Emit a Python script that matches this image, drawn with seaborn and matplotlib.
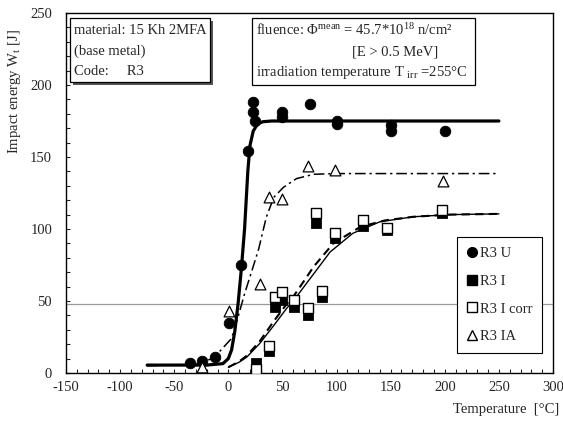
import matplotlib
matplotlib.use('Agg')
import matplotlib.pyplot as plt
from matplotlib.lines import Line2D
from matplotlib.patches import Rectangle
from matplotlib.ticker import MultipleLocator
import seaborn as sns

sns.set_style('ticks')
plt.rcParams.update({
    'font.family': ['Liberation Serif', 'DejaVu Serif'],
    'mathtext.fontset': 'custom',
    'mathtext.rm': 'Liberation Serif',
    'mathtext.it': 'Liberation Serif:italic',
    'font.size': 10.5,
    'axes.unicode_minus': False,
})

# ── measured points ─────────────────────────────────────────────────────────
T_U = [-35, -24, -12, 1, 12, 18, 23, 23, 25, 50, 50, 75, 100, 100, 150, 150, 200]
W_U = [7, 8, 11, 35, 75, 154, 188, 181, 175, 181, 178, 187, 175, 173, 172, 168, 168]

T_I = [26, 38, 43, 50, 61, 74, 81, 87, 99, 124, 147, 197]
W_I = [7, 15, 46, 51, 46, 40, 104, 53, 94, 102, 99, 111]

T_ICORR = [26, 38, 43, 50, 61, 74, 81, 87, 99, 124, 147, 197]
W_ICORR = [3, 19, 53, 56, 51, 45, 111, 57, 97, 106, 101, 113]

T_IA = [-24, 1, 29, 38, 50, 74, 99, 198]
W_IA = [4, 43, 62, 122, 121, 144, 141, 133]

# ── fitted curves ───────────────────────────────────────────────────────────
CT_U = [-75, -20, -5, 0, 3, 6, 9, 12, 15, 18, 20, 23, 27, 32, 40, 250]
CW_U = [5.5, 5.5, 6.5, 10, 16, 29, 48, 72, 100, 140, 158, 168, 173, 174.5, 175, 175]

CT_IA = [-75, -30, -15, -8, 3, 9, 15, 23, 28, 35, 42, 51, 63, 79, 100, 250]
CW_IA = [5, 6, 10, 15, 24, 39, 55, 74, 86, 108, 122, 129, 135, 138, 138.5, 138.5]

CT_I = [0, 10, 17, 29, 42, 54, 60, 70, 79, 94, 115, 140, 171, 205, 250]
CW_I = [4, 7.5, 11, 20.5, 33, 45, 50, 60, 69, 84, 97, 105, 108.5, 110, 110.5]

CT_ICORR = [0, 10, 17, 29, 42, 54, 60, 70, 79, 97, 122, 145, 171, 205, 250]
CW_ICORR = [4, 8, 12, 22, 36, 48, 53, 64, 74, 90, 101.5, 106, 108.5, 110, 110.5]

W_REF = 48

fig = plt.figure(figsize=(5.63, 4.30), dpi=100)
ax = fig.add_axes([66 / 563, 1 - 373 / 430, 487 / 563, 360 / 430])

ax.axhline(W_REF, color='#9a9a9a', lw=0.9, zorder=1)

def curve(t, w, **kw):
    sns.lineplot(x=t, y=w, ax=ax, sort=False, estimator=None, color='black', zorder=2, **kw)

curve(CT_U, CW_U, lw=2.3)
curve(CT_IA, CW_IA, lw=1.1, dashes=(7, 2.5, 1.5, 2.5))
curve(CT_I, CW_I, lw=1.0)
curve(CT_ICORR, CW_ICORR, lw=1.5, dashes=(4, 2.5))

sns.scatterplot(x=T_U, y=W_U, ax=ax, marker='o', s=58, color='black', edgecolor='black', zorder=3)
sns.scatterplot(x=T_I, y=W_I, ax=ax, marker='s', s=52, color='black', edgecolor='black', zorder=4)
sns.scatterplot(x=T_ICORR, y=W_ICORR, ax=ax, marker='s', s=52, facecolor='white', edgecolor='black', linewidth=1.0, zorder=5)
sns.scatterplot(x=T_IA, y=W_IA, ax=ax, marker='^', s=60, facecolor='white', edgecolor='black', linewidth=0.9, zorder=5)

ax.set_xlim(-150, 300)
ax.set_ylim(0, 250)
ax.xaxis.set_major_locator(MultipleLocator(50))
ax.xaxis.set_minor_locator(MultipleLocator(10))
ax.yaxis.set_major_locator(MultipleLocator(50))
ax.yaxis.set_minor_locator(MultipleLocator(10))
ax.tick_params(which='both', direction='in', length=3, width=0.8, top=False, right=False)
ax.tick_params(axis='x', which='major', labelsize=10.5, pad=6)
ax.tick_params(axis='y', which='major', labelsize=10.5, pad=10)
for s in ax.spines.values():
    s.set_linewidth(1.0)
    s.set_color('black')
ax.set_xlabel('')
ax.set_ylabel('')

# text boxes
ax.add_patch(Rectangle((0.014, 0.800), 0.288, 0.178, transform=ax.transAxes, facecolor='#555555',
                       edgecolor='none', zorder=6))
ax.add_patch(Rectangle((0.008, 0.808), 0.288, 0.178, transform=ax.transAxes, facecolor='white',
                       edgecolor='black', lw=0.9, zorder=7))
ax.text(0.016, 0.952, 'material: 15 Kh 2MFA', transform=ax.transAxes, va='center', zorder=8)
ax.text(0.016, 0.893, '(base metal)', transform=ax.transAxes, va='center', zorder=8)
ax.text(0.016, 0.838, 'Code:     R3', transform=ax.transAxes, va='center', zorder=8)

ax.add_patch(Rectangle((0.382, 0.800), 0.458, 0.186, transform=ax.transAxes, facecolor='white',
                       edgecolor='black', lw=0.9, zorder=7))
ax.text(0.390, 0.952, 'fluence: Φ$^{\\rm mean}$ = 45.7*10$^{18}$ n/cm²', transform=ax.transAxes,
        va='center', zorder=8)
ax.text(0.587, 0.893, '[E > 0.5 MeV]', transform=ax.transAxes, va='center', zorder=8)
ax.text(0.390, 0.835, 'irradiation temperature T $_{\\rm irr}$ =255°C', transform=ax.transAxes,
        va='center', zorder=8)

handles = [
    Line2D([], [], ls='none', marker='o', ms=7, mfc='black', mec='black'),
    Line2D([], [], ls='none', marker='s', ms=6.5, mfc='black', mec='black'),
    Line2D([], [], ls='none', marker='s', ms=6.5, mfc='white', mec='black'),
    Line2D([], [], ls='none', marker='^', ms=7, mfc='white', mec='black'),
]
leg = ax.legend(handles, ['R3 U', 'R3 I', 'R3 I corr', 'R3 IA'], loc='lower right',
                bbox_to_anchor=(0.977, 0.056), borderaxespad=0, fancybox=False,
                edgecolor='black', framealpha=1, handlelength=0.7, handletextpad=0.2,
                labelspacing=1.0, borderpad=0.65, fontsize=10.5)
leg.get_frame().set_linewidth(0.8)
leg.set_zorder(9)

fig.text(15 / 563, 1 - 92 / 430, 'Impact energy W$_{\\rm t}$ [J]', rotation=90,
         ha='center', va='center', fontsize=10.5)
fig.text(559 / 563, 1 - 410 / 430, 'Temperature  [°C]', ha='right', va='center', fontsize=10.5)

fig.savefig('out.png', dpi=100)
